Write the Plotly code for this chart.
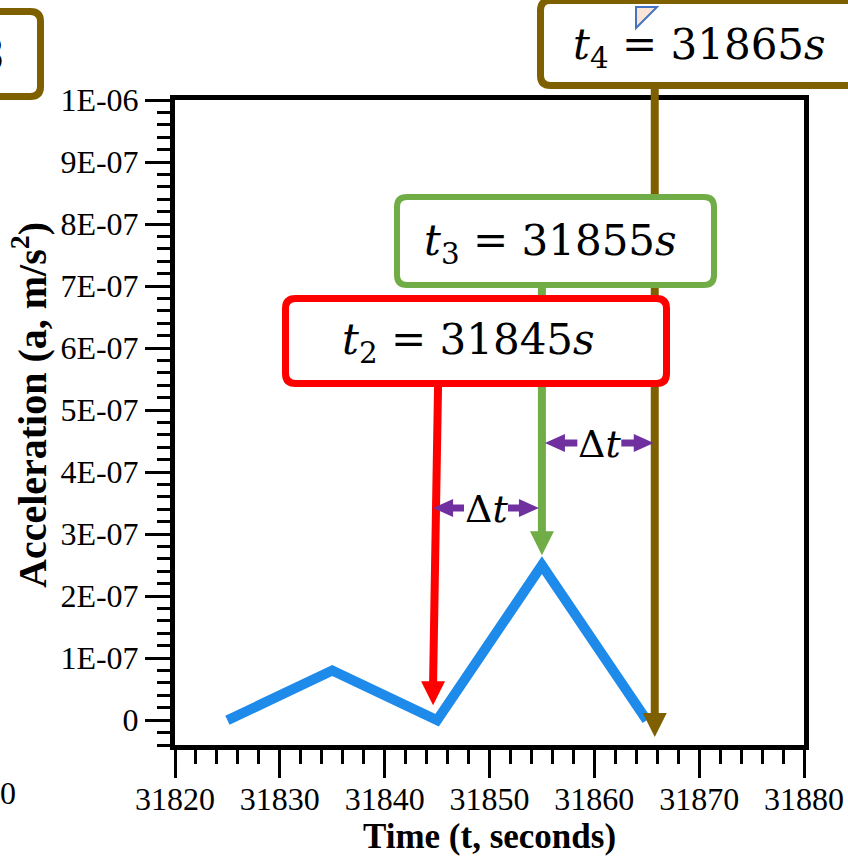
import numpy as np
import plotly.graph_objects as go

# ---- data ----
time_s = [31825, 31835, 31845, 31855, 31865]
accel = [0.0, 8e-08, 0.0, 2.5e-07, 0.0]

x_tick_vals = [31820, 31830, 31840, 31850, 31860, 31870, 31880]
x_tick_text = ["31820", "31830", "31840", "31850", "31860", "31870", "31880"]
y_tick_vals = [0, 1e-07, 2e-07, 3e-07, 4e-07, 5e-07, 6e-07, 7e-07, 8e-07, 9e-07, 1e-06]
y_tick_text = ["0", "1E-07", "2E-07", "3E-07", "4E-07", "5E-07",
               "6E-07", "7E-07", "8E-07", "9E-07", "1E-06"]

event_times = [31845, 31855, 31865]
event_text = ["<i>t</i><sub>2</sub> = 31845<i>s</i>",
              "<i>t</i><sub>3</sub> = 31855<i>s</i>",
              "<i>t</i><sub>4</sub> = 31865<i>s</i>"]
event_colors = ["#FF0000", "#70AD47", "#7F6000"]
arrow_tip_values = [2.4e-08, 2.66e-07, -2.7e-08]

X_RANGE = [31820, 31880]
Y_RANGE = [-4e-08, 1e-06]

# ---- page geometry ----
W, H = 848, 857
ML, MR, MT, MB = 175, 44, 100, 112
PW, PH = W - ML - MR, H - MT - MB


def pxx(px):
    """pixel column -> paper x"""
    return (px - ML) / PW


def pxy(py):
    """pixel row -> paper y"""
    return (H - MB - py) / PH


def data_px_x(t):
    return ML + (t - X_RANGE[0]) / (X_RANGE[1] - X_RANGE[0]) * PW


def data_px_y(v):
    return H - MB - (v - Y_RANGE[0]) / (Y_RANGE[1] - Y_RANGE[0]) * PH


def poly_path(points):
    segs = [f"{'M' if i == 0 else 'L'}{pxx(x):.5f},{pxy(y):.5f}" for i, (x, y) in enumerate(points)]
    return " ".join(segs) + " Z"


def rounded_rect(x0, y0, x1, y1, r):
    p = lambda x, y: f"{pxx(x):.5f},{pxy(y):.5f}"
    return (f"M{p(x0 + r, y0)} L{p(x1 - r, y0)} Q{p(x1, y0)} {p(x1, y0 + r)} "
            f"L{p(x1, y1 - r)} Q{p(x1, y1)} {p(x1 - r, y1)} "
            f"L{p(x0 + r, y1)} Q{p(x0, y1)} {p(x0, y1 - r)} "
            f"L{p(x0, y0 + r)} Q{p(x0, y0)} {p(x0 + r, y0)} Z")


shapes = []
annotations = []


def add_line(x0, y0, x1, y1, color, width):
    shapes.append(dict(type="line", xref="paper", yref="paper",
                       x0=pxx(x0), y0=pxy(y0), x1=pxx(x1), y1=pxy(y1),
                       line=dict(color=color, width=width), layer="above"))


def add_poly(points, color, line_color=None, line_width=0):
    shapes.append(dict(type="path", xref="paper", yref="paper", path=poly_path(points),
                       fillcolor=color,
                       line=dict(color=line_color or color, width=line_width),
                       layer="above"))


def add_box(x0, y0, x1, y1, color, width, radius=10):
    h = width / 2
    shapes.append(dict(type="path", xref="paper", yref="paper",
                       path=rounded_rect(x0 + h, y0 + h, x1 - h, y1 - h, radius),
                       fillcolor="white", line=dict(color=color, width=width),
                       layer="above"))


# vertical event arrows: (box bottom row, tail shift, tip shift)
arrow_geom = [(384, 1, -4), (285, 0, 0), (86, 8, 8)]
HEAD_L, HEAD_W, SHAFT = 24, 24, 8
for t, tip_v, col, (tail_y, dtail, dtip) in zip(event_times, arrow_tip_values,
                                               event_colors, arrow_geom):
    xt = data_px_x(t)
    tip_y = data_px_y(tip_v)
    x_tail, x_tip = xt + dtail, xt + dtip
    add_line(x_tail, tail_y, x_tip, tip_y - HEAD_L + 2, col, SHAFT)
    add_poly([(x_tip - HEAD_W / 2, tip_y - HEAD_L), (x_tip + HEAD_W / 2, tip_y - HEAD_L),
              (x_tip, tip_y)], col)

# labelled boxes (drawn over the arrow shafts)
add_box(282, 295, 670, 387, event_colors[0], 7)
add_box(394, 194, 717, 288, event_colors[1], 6)
add_box(537, -3, 900, 89, event_colors[2], 7)
add_box(-60, 8, 44, 100, "#7F6000", 7)

# small cut-off callout corner inside the top box
add_poly([(636, 7), (636, 28), (657, 7)], "#FBE5D6", "#4472C4", 2)

text_pos = [(468, 342), (550, 243), (699, 48)]
for txt, (cx, cy) in zip(event_text, text_pos):
    annotations.append(dict(xref="paper", yref="paper", x=pxx(cx), y=pxy(cy),
                            xanchor="center", yanchor="middle", text=txt, showarrow=False,
                            font=dict(family="DejaVu Serif", size=42, color="black")))

# interval markers between consecutive events
PURPLE = "#7030A0"
dt_rows = [(508, data_px_x(event_times[0]) - 4, data_px_x(event_times[1]) - 3),
           (443, data_px_x(event_times[1]) + 3, data_px_x(event_times[2]) + 7)]
for y, xa, xb in dt_rows:
    m = (xa + xb) / 2
    hl, hw = 20, 18
    add_line(xa + hl - 1, y, m - 22, y, PURPLE, 7)
    add_line(m + 22, y, xb - hl + 1, y, PURPLE, 7)
    add_poly([(xa + hl, y - hw / 2), (xa + hl, y + hw / 2), (xa, y)], PURPLE)
    add_poly([(xb - hl, y - hw / 2), (xb - hl, y + hw / 2), (xb, y)], PURPLE)
    annotations.append(dict(xref="paper", yref="paper", x=pxx(m), y=pxy(y + 1),
                            xanchor="center", yanchor="middle", text="Δ<i>t</i>",
                            showarrow=False,
                            font=dict(family="DejaVu Serif", size=38, color="black")))

# y-axis title, placed beside the tick labels
annotations.append(dict(xref="paper", yref="paper", x=pxx(30), y=pxy(405),
                        xanchor="center", yanchor="middle", textangle=-90,
                        text="Acceleration (a, m/s<sup>2</sup>)", showarrow=False,
                        font=dict(family="Liberation Serif", size=40, color="black",
                                  weight="bold")))

# neighbouring panel fragments at the page edges
annotations.append(dict(xref="paper", yref="paper", x=pxx(7), y=pxy(55),
                        xanchor="right", yanchor="middle", text="3", showarrow=False,
                        font=dict(family="DejaVu Sans", size=46, color="black")))
annotations.append(dict(xref="paper", yref="paper", x=pxx(18), y=pxy(793),
                        xanchor="right", yanchor="middle", text="0", showarrow=False,
                        font=dict(family="Liberation Serif", size=32, color="black")))

fig = go.Figure()
fig.add_trace(go.Scatter(x=time_s, y=accel, mode="lines",
                         line=dict(color="#1E8BEB", width=10), showlegend=False))

axis_common = dict(showline=True, linecolor="black", linewidth=5, mirror=True,
                   showgrid=False, zeroline=False, ticks="outside", tickwidth=3,
                   tickcolor="black",
                   tickfont=dict(family="Liberation Serif", size=32, color="black"))

fig.update_layout(
    width=W, height=H,
    margin=dict(l=ML, r=MR, t=MT, b=MB, autoexpand=False),
    paper_bgcolor="white", plot_bgcolor="white",
    xaxis=dict(range=X_RANGE, tickmode="array", tickvals=x_tick_vals,
               ticktext=x_tick_text, ticklen=28, ticklabelstandoff=-6,
               minor=dict(tickmode="linear", tick0=X_RANGE[0], dtick=2, ticklen=14,
                          tickwidth=3, tickcolor="black", ticks="outside"),
               title=dict(text="Time (t, seconds)", standoff=0,
                          font=dict(family="Liberation Serif", size=35, color="black",
                                    weight="bold")),
               **axis_common),
    yaxis=dict(range=Y_RANGE, tickmode="array", tickvals=y_tick_vals,
               ticktext=y_tick_text, ticklen=25,
               minor=dict(tickmode="linear", tick0=0, dtick=2e-08, ticklen=13,
                          tickwidth=3, tickcolor="black", ticks="outside"),
               **axis_common),
    shapes=shapes,
    annotations=annotations,
)

fig.write_html("out.html")
